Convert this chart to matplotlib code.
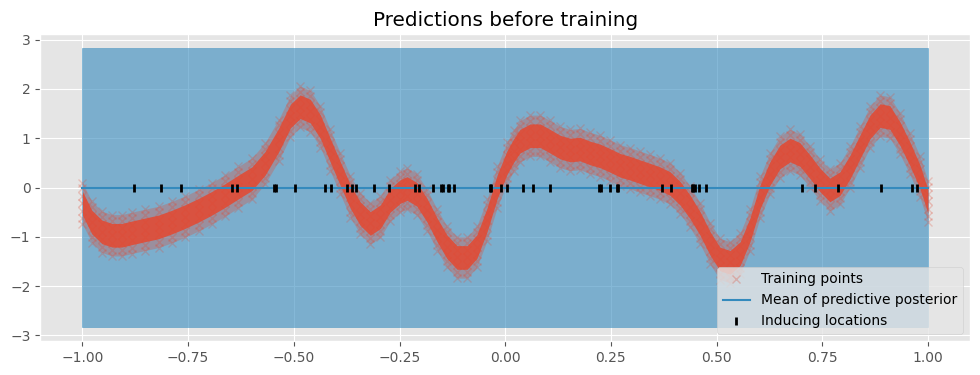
import numpy as np
import matplotlib
matplotlib.use("Agg")
import matplotlib.pyplot as plt

plt.style.use("ggplot")

C_PTS = "#E24A33"
C_POST = "#348ABD"

# centre of the training-point cloud
x_train = [-1.000, -0.978, -0.954, -0.930, -0.907, -0.883, -0.852, -0.820, -0.788, -0.757,
           -0.725, -0.694, -0.662, -0.631, -0.599, -0.568, -0.536, -0.508, -0.485, -0.461,
           -0.437, -0.414, -0.390, -0.366, -0.343, -0.319, -0.295, -0.272, -0.248, -0.232,
           -0.209, -0.185, -0.161, -0.138, -0.114, -0.090, -0.067, -0.043, -0.019, 0.004,
           0.020, 0.035, 0.059, 0.083, 0.106, 0.130, 0.154, 0.177, 0.201, 0.225,
           0.248, 0.272, 0.296, 0.319, 0.343, 0.366, 0.390, 0.414, 0.437, 0.461,
           0.485, 0.508, 0.532, 0.556, 0.579, 0.603, 0.626, 0.650, 0.674, 0.697,
           0.721, 0.745, 0.768, 0.792, 0.816, 0.839, 0.863, 0.887, 0.910, 0.934,
           0.957, 0.981, 1.000]
y_train = [-0.32, -0.70, -0.90, -0.97, -0.97, -0.92, -0.86, -0.80, -0.70, -0.59,
           -0.46, -0.32, -0.16, 0.01, 0.18, 0.49, 0.96, 1.45, 1.64, 1.55,
           1.23, 0.76, 0.28, -0.19, -0.53, -0.73, -0.59, -0.26, -0.08, -0.02,
           -0.14, -0.46, -0.86, -1.20, -1.42, -1.42, -1.20, -0.66, 0.01, 0.50,
           0.75, 0.94, 1.05, 1.05, 0.94, 0.82, 0.76, 0.78, 0.70, 0.64,
           0.55, 0.45, 0.39, 0.32, 0.25, 0.18, 0.08, -0.12, -0.39, -0.73,
           -1.14, -1.45, -1.52, -1.34, -0.86, -0.19, 0.28, 0.62, 0.76, 0.67,
           0.42, 0.15, -0.05, 0.08, 0.42, 0.82, 1.23, 1.46, 1.42, 1.09,
           0.69, 0.22, -0.28]
# vertical half-width of the cloud (dense core, outer fringe)
spread_core = 0.24
spread_edge = 0.42
row_offsets = [-0.42, -0.3, -0.15, 0.15, 0.3, 0.42]

inducing_x = [-0.879, -0.815, -0.768, -0.646, -0.634, -0.546, -0.542, -0.498, -0.427, -0.411,
              -0.374, -0.362, -0.352, -0.311, -0.276, -0.214, -0.203, -0.170, -0.153, -0.146,
              -0.135, -0.132, -0.122, -0.036, -0.033, -0.010, 0.005, 0.041, 0.065, 0.105,
              0.223, 0.227, 0.249, 0.264, 0.268, 0.370, 0.393, 0.442, 0.445, 0.448,
              0.459, 0.475, 0.701, 0.734, 0.788, 0.890, 0.963, 0.973]

x_test = [-1.0, 1.0]
mean_test = [0.0, 0.0]
lower_test = [-2.83, -2.83]
upper_test = [2.83, 2.83]

xt = np.array(x_train)
yt = np.array(y_train)

fig, ax = plt.subplots(figsize=(9.8, 3.75), dpi=100)
fig.subplots_adjust(left=0.041, right=0.990, bottom=0.091, top=0.909)

ax.fill_between(x_test, lower_test, upper_test, color=C_POST, alpha=0.6)

# training points cloud
ax.fill_between(xt, yt - spread_edge, yt + spread_edge, color=C_PTS, alpha=0.3, lw=0)
ax.fill_between(xt, yt - spread_core, yt + spread_core, color=C_PTS, alpha=0.88, lw=0)
for off in row_offsets:
    ax.plot(xt, yt + off, "x", color=C_PTS, alpha=0.25)
ax.plot(xt, yt, "x", color=C_PTS, alpha=0.3, label="Training points")

ax.plot(x_test, mean_test, color=C_POST, lw=1.5, label="Mean of predictive posterior")
ax.plot(inducing_x, np.zeros(len(inducing_x)), "k|", mew=2, label="Inducing locations")

ax.set_title("Predictions before training")
ax.legend(loc="lower right")

fig.savefig("out.png", dpi=100)
plt.close(fig)
